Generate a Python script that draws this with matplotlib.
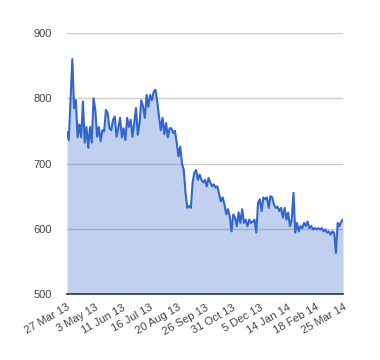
import numpy as np
import matplotlib
matplotlib.use('Agg')
import matplotlib.pyplot as plt

# daily closing values (roughly every other trading day)
prices = [
    748, 736, 797, 860, 785, 797, 740, 760, 740, 795, 732, 756, 724, 756, 732,
    800, 782, 741, 756, 734, 751, 749, 782, 777, 754, 751, 767, 772, 741, 754,
    770, 740, 754, 736, 770, 756, 767, 741, 762, 785, 744, 762, 797, 787, 770,
    805, 787, 805, 797, 810, 813, 795, 772, 751, 770, 745, 762, 740, 754, 754,
    747, 750, 732, 711, 726, 700, 690, 655, 632, 635, 632, 671, 686, 690, 675,
    683, 675, 671, 675, 665, 678, 671, 665, 668, 663, 665, 653, 642, 648, 637,
    622, 630, 619, 596, 622, 617, 604, 625, 609, 630, 609, 614, 604, 614, 609,
    611, 614, 594, 640, 645, 627, 648, 645, 648, 632, 650, 648, 637, 632, 634,
    627, 632, 617, 632, 614, 625, 604, 614, 655, 594, 609, 596, 604, 601, 609,
    604, 611, 601, 604, 599, 601, 599, 601, 599, 601, 596, 599, 594, 596, 591,
    596, 594, 563, 609, 604, 611, 614,
]
tick_labels = ['27 Mar 13', '3 May 13', '11 Jun 13', '16 Jul 13', '20 Aug 13',
               '26 Sep 13', '31 Oct 13', '5 Dec 13', '14 Jan 14', '18 Feb 14',
               '25 Mar 14']
y_ticks = [500, 600, 700, 800, 900]

plt.rcParams['font.family'] = ['Liberation Sans', 'DejaVu Sans']

x = np.arange(len(prices))

fig = plt.figure(figsize=(3.8, 3.6), dpi=100)
ax = fig.add_axes([67 / 380, 1 - 294 / 360, 276 / 380, 261 / 360])

ax.fill_between(x, prices, 500, color='#3366cc', alpha=0.3, linewidth=0, zorder=2)
ax.plot(x, prices, color='#3366cc', linewidth=1.5, zorder=3)

ax.set_xlim(0, len(prices) - 1)
ax.set_ylim(500, 900)
ax.set_yticks(y_ticks)
ax.set_yticklabels([str(v) for v in y_ticks])
ax.yaxis.grid(True, color='#cccccc', linewidth=1, zorder=1)
ax.set_axisbelow(True)

ax.set_xticks(np.linspace(0, len(prices) - 1, len(tick_labels)))
ax.set_xticklabels(tick_labels, rotation=30, ha='right', va='top',
                   rotation_mode='anchor')

for side in ['top', 'right', 'left']:
    ax.spines[side].set_visible(False)
ax.spines['bottom'].set_color('#333333')
ax.spines['bottom'].set_linewidth(1.2)
ax.spines['bottom'].set_zorder(4)

ax.tick_params(axis='both', length=0, labelsize=8, labelcolor='#444444')
ax.tick_params(axis='y', pad=11)
ax.tick_params(axis='x', pad=6)

fig.savefig('out.png', dpi=100)
